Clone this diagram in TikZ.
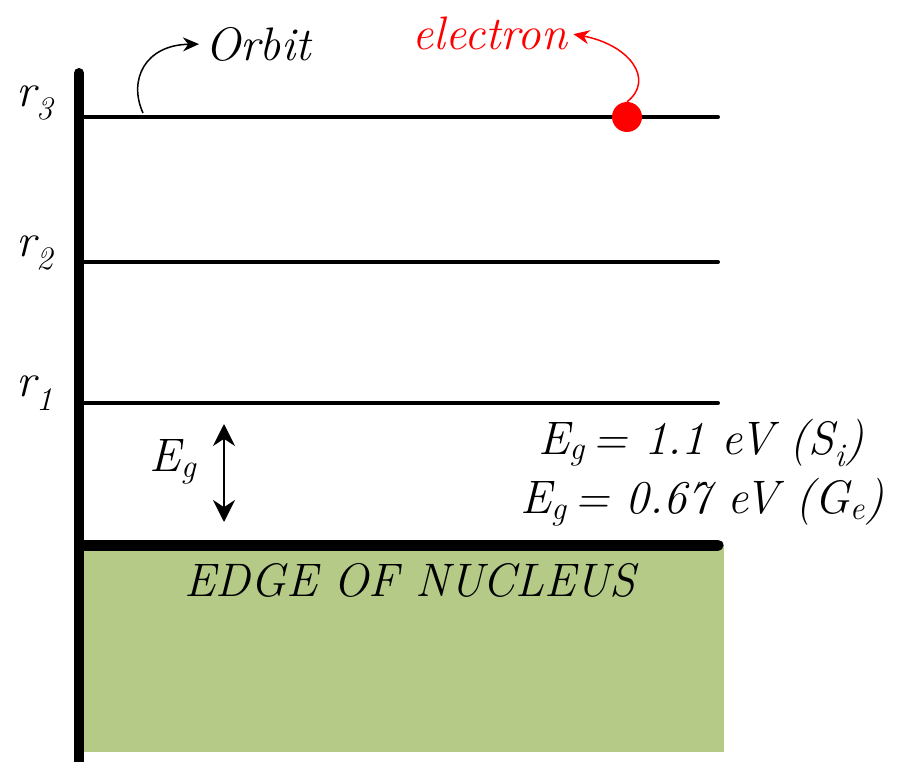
\documentclass[tikz,border=0pt]{standalone}
\usetikzlibrary{arrows.meta}
\definecolor{nucgreen}{RGB}{181,202,135}
\begin{document}
\begin{tikzpicture}[x=1pt,y=-1pt,
  lbl/.style={inner sep=0pt,font=\fontsize{47}{54}\selectfont\itshape},
  orbitline/.style={line width=4pt,line cap=round},
  curvearrow/.style={line width=1.5pt,shorten >=6pt,-{Stealth[length=16pt,width=14pt]}}]
\useasboundingbox (0,0) rectangle (903,762);
% nucleus
\fill[nucgreen] (84,545) rectangle (724,752);
\draw[line width=11pt,line cap=round] (84,545) -- (718,545);
% axis
\draw[line width=10pt,line cap=round] (79,73) -- (79,762);
% orbits
\coordinate (o3a) at (79,117); \coordinate (o3b) at (718,117);
\coordinate (o2a) at (79,262); \coordinate (o2b) at (718,262);
\coordinate (o1a) at (79,403); \coordinate (o1b) at (718,403);
\draw[orbitline] (o3a) -- (o3b);
\draw[orbitline] (o2a) -- (o2b);
\draw[orbitline] (o1a) -- (o1b);
% labels
\node[lbl] (r3) at (35,103) {r\textsubscript{3}};
\node[lbl] (r2) at (35,253) {r\textsubscript{2}};
\node[lbl] (r1) at (35,393) {r\textsubscript{1}};
% orbit label
\node[lbl,anchor=west] (orbit) at (205,44) {Orbit};
\coordinate (os) at (143,113);
\draw[curvearrow] (os) .. controls (128,80) and (145,45) .. (orbit.west);
% electron
\node[circle,fill=red,inner sep=0pt,minimum size=30pt] (e) at (627,117) {};
\node[lbl,text=red] (elec) at (490,33) {electron};
\draw[curvearrow,red] (e.north) .. controls (655,80) and (630,45) .. (elec.east);
% Eg arrow
\node[lbl] (eg) at (173,462) {E\textsubscript{g}};
\coordinate (egt) at (224,424); \coordinate (egb) at (224,522);
\draw[line width=2pt,{Stealth[length=22pt,width=22pt]}-{Stealth[length=22pt,width=22pt]}] (egt) -- (egb);
% values
\node[lbl,anchor=east] (v1) at (864,443) {E\textsubscript{g}\,= 1.1 eV (S\textsubscript{i})};
\node[lbl,anchor=east] (v2) at (884,502) {E\textsubscript{g}\,= 0.67 eV (G\textsubscript{e})};
% nucleus text
\node[lbl] (nuc) at (410,580) {EDGE OF NUCLEUS};
\end{tikzpicture}
\end{document}
